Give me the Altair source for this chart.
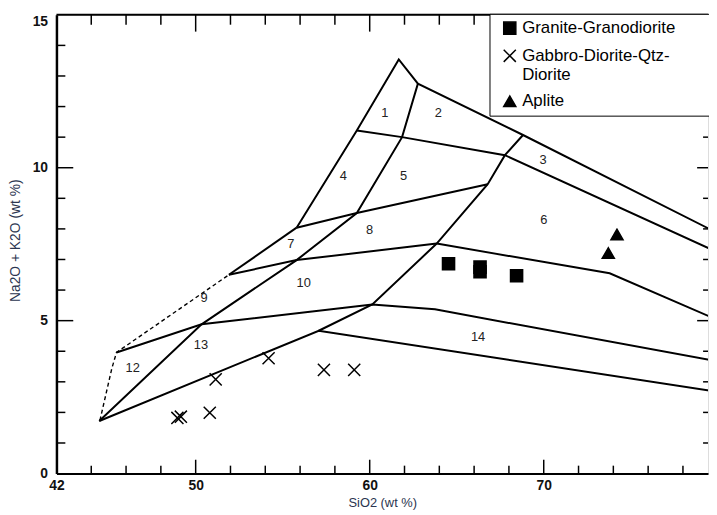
import altair as alt
import pandas as pd

# ---------------- data ----------------
# TAS field boundaries (SiO2, Na2O+K2O) — solid polylines
line_1_x = [44.46, 50.34, 55.80, 59.26, 61.86, 62.77]
line_1_y = [1.72, 4.88, 6.98, 8.52, 11.00, 12.75]
line_2_x = [55.80, 59.26, 61.67, 62.77, 68.81, 80.0]
line_2_y = [8.04, 11.22, 13.54, 12.75, 11.07, 7.86]
line_3_x = [59.26, 61.86, 67.77, 80.0]
line_3_y = [11.22, 11.00, 10.41, 7.23]
line_4_x = [51.91, 55.80]
line_4_y = [6.50, 8.04]
line_5_x = [51.91, 55.80, 63.85]
line_5_y = [6.50, 6.98, 7.52]
line_6_x = [55.80, 59.26, 66.78]
line_6_y = [8.04, 8.52, 9.46]
line_7_x = [45.45, 50.34, 60.15, 63.75, 80.0]
line_7_y = [3.96, 4.88, 5.53, 5.37, 3.67]
line_8_x = [57.07, 60.15, 63.85, 66.78, 67.77, 68.81]
line_8_y = [4.67, 5.53, 7.52, 9.46, 10.41, 11.07]
line_9_x = [44.46, 57.07, 80.0]
line_9_y = [1.72, 4.67, 2.67]
line_10_x = [63.85, 73.79, 80.0]
line_10_y = [7.52, 6.55, 5.02]
# dashed boundary
dash_x = [44.50, 45.18, 45.45, 51.91]
dash_y = [1.74, 3.43, 3.96, 6.50]

# field numbers
field_names = ["1", "2", "3", "4", "5", "6", "7", "8", "9", "10", "12", "13", "14"]
field_x = [60.87, 63.94, 69.96, 58.48, 61.95, 70.00, 55.47, 60.00, 50.49, 56.21, 46.38, 50.30, 66.23]
field_y = [11.78, 11.78, 10.24, 9.73, 9.73, 8.28, 7.49, 7.95, 5.75, 6.23, 3.46, 4.21, 4.47]

# samples
granite_x = [64.53, 66.34, 66.34, 68.44]
granite_y = [6.86, 6.75, 6.60, 6.47]
gabbro_x = [48.95, 49.15, 50.81, 51.15, 54.19, 57.37, 59.11]
gabbro_y = [1.82, 1.86, 1.99, 3.08, 3.77, 3.39, 3.39]
aplite_x = [74.21, 73.71]
aplite_y = [7.82, 7.21]
rock_names = ["Granite-Granodiorite", "Gabbro-Diorite-Qtz-Diorite", "Aplite"]

# axes ticks
x_label_values = [42, 50, 60, 70]
y_label_values = [0, 5, 10, 15]
x_minor = [44, 46, 48, 52, 54, 56, 58, 62, 64, 66, 68, 72, 74, 76, 78]
x_major = [50, 60, 70]
y_minor = [1, 2, 3, 4, 6, 7, 8, 9, 11, 12, 13, 14]
y_major = [5, 10]

# ---------------- tables ----------------
solid_lines = [
    (line_1_x, line_1_y), (line_2_x, line_2_y), (line_3_x, line_3_y),
    (line_4_x, line_4_y), (line_5_x, line_5_y), (line_6_x, line_6_y),
    (line_7_x, line_7_y), (line_8_x, line_8_y), (line_9_x, line_9_y),
    (line_10_x, line_10_y),
]
rows = []
for i, (xs, ys) in enumerate(solid_lines):
    for j, (a, b) in enumerate(zip(xs, ys)):
        rows.append({"line": i, "order": j, "x": a, "y": b})
solid_df = pd.DataFrame(rows)
dash_df = pd.DataFrame({"line": 0, "order": range(len(dash_x)), "x": dash_x, "y": dash_y})
fields_df = pd.DataFrame({"x": field_x, "y": field_y, "t": field_names})
pts_df = pd.concat([
    pd.DataFrame({"x": granite_x, "y": granite_y, "rock": rock_names[0]}),
    pd.DataFrame({"x": gabbro_x, "y": gabbro_y, "rock": rock_names[1]}),
    pd.DataFrame({"x": aplite_x, "y": aplite_y, "rock": rock_names[2]}),
])

W, H = 659, 464
FONT = "Liberation Sans"

xs_ = alt.Scale(domain=[42, 79.44], nice=False, zero=False)
ys_ = alt.Scale(domain=[0, 15], nice=False, zero=False)
xaxis = alt.Axis(values=x_label_values, title="SiO2 (wt %)", ticks=False, tickSize=0, grid=False,
                 domainWidth=2, domainColor="black", labelFlush=False,
                 labelFont=FONT, labelFontSize=14, labelFontWeight="bold", labelColor="#111",
                 labelPadding=5, labelBaseline="top",
                 titleFont=FONT, titleFontSize=13, titleFontWeight="normal", titleColor="#2b3550",
                 titleY=23, titleBaseline="top")
yaxis = alt.Axis(values=y_label_values, title="Na2O + K2O (wt %)", ticks=False, tickSize=0, grid=False,
                 domainWidth=2.5, domainColor="black", labelFlush=False,
                 labelFont=FONT, labelFontSize=14, labelFontWeight="bold", labelColor="#111",
                 labelPadding=9,
                 labelBaseline=alt.condition("datum.value == 15", alt.value("top"), alt.value("middle")),
                 titleFont=FONT, titleFontSize=14, titleFontWeight="normal", titleColor="#2b3550",
                 titleX=-34, titleY=228, titleAlign="center", titleBaseline="bottom", titleAngle=270)


def X(f):
    return alt.X(f, scale=xs_, axis=xaxis)


def Y(f):
    return alt.Y(f, scale=ys_, axis=yaxis)


solid = alt.Chart(solid_df).mark_line(color="black", strokeWidth=2, clip=True).encode(
    x=X("x:Q"), y=Y("y:Q"), detail="line:N", order="order:Q")
dashed = alt.Chart(dash_df).mark_line(color="black", strokeWidth=1.4, strokeDash=[4, 3], clip=True).encode(
    x=X("x:Q"), y=Y("y:Q"), order="order:Q")
labels = alt.Chart(fields_df).mark_text(font=FONT, fontSize=13, color="#222").encode(
    x=X("x:Q"), y=Y("y:Q"), text="t:N")

label_expr = ("datum.label == 'Gabbro-Diorite-Qtz-Diorite' ? ['Gabbro-Diorite-Qtz-', 'Diorite'] : datum.label")
# invisible right-hand title only widens the box so it runs off the right edge, as in the scan
leg = alt.Legend(title="Gr", titleOrient="right", titleOpacity=0, titleFontSize=17, titlePadding=12,
                 orient="none", legendX=438, legendY=-1, padding=6, symbolOffset=6,
                 strokeColor="black", fillColor="white",
                 labelFont=FONT, labelFontSize=17, labelColor="black",
                 labelExpr=label_expr, labelOffset=4, rowPadding=9, labelLimit=400,
                 symbolStrokeColor="black", symbolStrokeWidth=1.5)
shape_scale = alt.Scale(domain=rock_names, range=["square", "M-1,-1L1,1M-1,1L1,-1", "triangle-up"])
fill_scale = alt.Scale(domain=rock_names, range=["black", "transparent", "black"])
stroke_scale = alt.Scale(domain=rock_names, range=["black", "black", "black"])
size_scale = alt.Scale(domain=rock_names, range=[150, 150, 150])
points = alt.Chart(pts_df).mark_point(strokeWidth=1.5, opacity=1, clip=True).encode(
    x=X("x:Q"), y=Y("y:Q"),
    shape=alt.Shape("rock:N", scale=shape_scale, legend=leg),
    fill=alt.Fill("rock:N", scale=fill_scale, legend=leg),
    stroke=alt.Stroke("rock:N", scale=stroke_scale, legend=leg),
    size=alt.Size("rock:N", scale=size_scale, legend=leg),
)

xminor_df = pd.DataFrame({"x": x_minor})
xmajor_df = pd.DataFrame({"x": x_major})
yminor_df = pd.DataFrame({"y": y_minor})
ymajor_df = pd.DataFrame({"y": y_major})
tk = dict(color="black", strokeWidth=1.5)
ticks = [
    alt.Chart(xminor_df).mark_rule(**tk).encode(x=X("x:Q"), y=alt.value(H), y2=alt.value(H - 8)),
    alt.Chart(xmajor_df).mark_rule(**tk).encode(x=X("x:Q"), y=alt.value(H), y2=alt.value(H - 14)),
    alt.Chart(xminor_df).mark_rule(**tk).encode(x=X("x:Q"), y=alt.value(0), y2=alt.value(10)),
    alt.Chart(xmajor_df).mark_rule(**tk).encode(x=X("x:Q"), y=alt.value(0), y2=alt.value(17)),
    alt.Chart(yminor_df).mark_rule(**tk).encode(y=Y("y:Q"), x=alt.value(0), x2=alt.value(9)),
    alt.Chart(ymajor_df).mark_rule(**tk).encode(y=Y("y:Q"), x=alt.value(0), x2=alt.value(17)),
    alt.Chart(yminor_df).mark_rule(**tk).encode(y=Y("y:Q"), x=alt.value(W - 5), x2=alt.value(W)),
    alt.Chart(ymajor_df).mark_rule(**tk).encode(y=Y("y:Q"), x=alt.value(W - 11), x2=alt.value(W)),
]
top_border = alt.Chart(pd.DataFrame({"y": [15]})).mark_rule(color="black", strokeWidth=2).encode(y=Y("y:Q"))

chart = alt.layer(solid, dashed, labels, *ticks, top_border, points).properties(
    width=W, height=H,
    autosize=alt.AutoSizeParams(type="none"),
    padding={"left": 49, "top": 4, "right": 1, "bottom": 38},
).configure_view(stroke=None).configure(font=FONT, background="white")

chart.save("out.html", embed_options={"renderer": "svg", "actions": False})
